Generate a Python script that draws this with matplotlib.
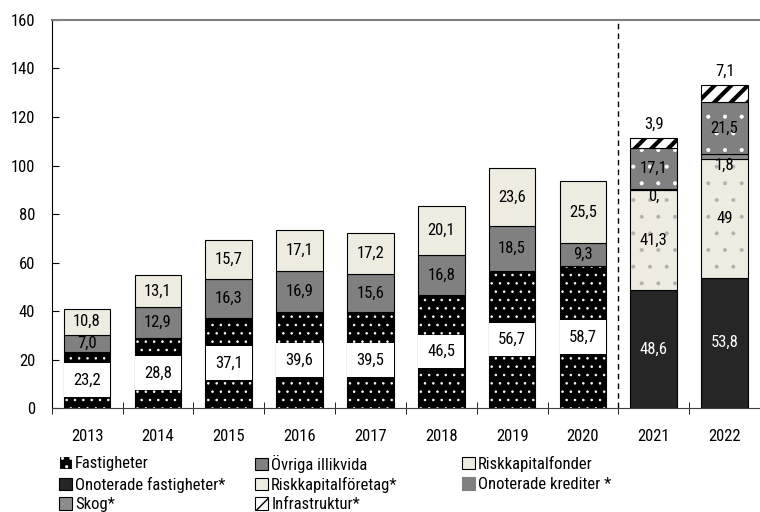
import matplotlib
matplotlib.use("Agg")
import matplotlib.pyplot as plt
from matplotlib import font_manager
from matplotlib.patches import Patch

years = ["2013", "2014", "2015", "2016", "2017", "2018", "2019", "2020", "2021", "2022"]

# 2013-2020
fastigheter = [23.2, 28.8, 37.1, 39.6, 39.5, 46.5, 56.7, 58.7]
ovriga_illikvida = [7.0, 12.9, 16.3, 16.9, 15.6, 16.8, 18.5, 9.3]
riskkapitalfonder = [10.8, 13.1, 15.7, 17.1, 17.2, 20.1, 23.6, 25.5]

# 2021-2022
onoterade_fastigheter = [48.6, 53.8]
riskkapitalforetag = [41.3, 49.0]
skog = [0.3, 1.8]
onoterade_krediter = [17.1, 21.5]
infrastruktur = [3.9, 7.1]
riskkapitalforetag_labels = ["41,3", "49"]
skog_labels = ["0,", "1,8"]

# pick a condensed face if one is installed
names = {f.name for f in font_manager.fontManager.ttflist}
font = "DejaVu Sans"
for cand in ["Roboto Condensed", "Liberation Sans Narrow", "Open Sans Condensed", "DejaVu Sans Condensed"]:
    if cand in names:
        font = cand
        break
plt.rcParams["font.family"] = [font, "DejaVu Sans"]

BEIGE = "#eeece1"
GRAY = "#808080"
DARK = "#262626"
W = 0.66


def fmt(v):
    return f"{v:.1f}".replace(".", ",")


def seg(ax, x, vals, bottoms, face, hatch=None, hcolor=None, hlw=1.0):
    if hatch:
        with plt.rc_context({"hatch.linewidth": hlw}):
            bars = ax.bar(x, vals, W, bottom=bottoms, color=face, edgecolor=hcolor,
                          linewidth=0, hatch=hatch)
            for p in bars:
                if hasattr(p, "set_hatch_linewidth"):
                    p.set_hatch_linewidth(hlw)
        ax.bar(x, vals, W, bottom=bottoms, fill=False, edgecolor="black", linewidth=0.8)
    else:
        ax.bar(x, vals, W, bottom=bottoms, color=face, edgecolor="black", linewidth=0.8)


fig = plt.figure(figsize=(7.6, 5.12), dpi=100)
ax = fig.add_axes([0.068, 0.203, 0.932, 0.758])

old = list(range(8))
new = [8, 9]

b1 = fastigheter
b2 = [a + b for a, b in zip(b1, ovriga_illikvida)]
seg(ax, old, fastigheter, 0, "black", "..", "white", 0.6)
seg(ax, old, ovriga_illikvida, b1, GRAY)
seg(ax, old, riskkapitalfonder, b2, BEIGE)

n1 = onoterade_fastigheter
n2 = [a + b for a, b in zip(n1, riskkapitalforetag)]
n3 = [a + b for a, b in zip(n2, skog)]
n4 = [a + b for a, b in zip(n3, onoterade_krediter)]
seg(ax, new, onoterade_fastigheter, 0, DARK)
seg(ax, new, riskkapitalforetag, n1, BEIGE, ".", "#b0b0b0", 0.4)
seg(ax, new, skog, n2, "#8c8c8c")
seg(ax, new, onoterade_krediter, n3, GRAY, ".", "white", 0.5)
seg(ax, new, infrastruktur, n4, "white", "//", "black", 3.0)

fs = 12
for i in old:
    ax.text(i, fastigheter[i] / 2, fmt(fastigheter[i]), ha="center", va="center", fontsize=fs,
            bbox=dict(boxstyle="square,pad=0.55", fc="white", ec="none"))
    ax.text(i, b1[i] + ovriga_illikvida[i] / 2, fmt(ovriga_illikvida[i]), ha="center", va="center", fontsize=fs)
    ax.text(i, b2[i] + riskkapitalfonder[i] / 2, fmt(riskkapitalfonder[i]), ha="center", va="center", fontsize=fs)

for j, i in enumerate(new):
    ax.text(i, n1[j] / 2, fmt(onoterade_fastigheter[j]), ha="center", va="center", fontsize=fs, color="white")
    ax.text(i, n1[j] + riskkapitalforetag[j] / 2, riskkapitalforetag_labels[j], ha="center", va="center", fontsize=fs)
    ax.text(i, n2[j] + 0.5, skog_labels[j], ha="center", va="top", fontsize=fs)
    ax.text(i, n3[j] + onoterade_krediter[j] / 2, fmt(onoterade_krediter[j]), ha="center", va="center", fontsize=fs)
    ax.text(i, n4[j] + infrastruktur[j] + 2.5, fmt(infrastruktur[j]), ha="center", va="bottom", fontsize=fs)

ax.axvline(7.5, color="black", linestyle=(0, (4, 3)), linewidth=1)

ax.set_xlim(-0.5, 9.33)
ax.set_ylim(0, 160)
ax.set_yticks(range(0, 161, 20))
ax.set_xticks(range(10))
ax.set_xticklabels(years)
ax.set_xticks([i - 0.5 for i in range(11)], minor=True)
ax.tick_params(axis="x", which="major", length=0, pad=15, labelsize=fs)
ax.tick_params(axis="x", which="minor", direction="inout", length=9, color="black")
ax.tick_params(axis="y", direction="in", length=5, pad=12, labelsize=fs)

ax.spines["right"].set_visible(False)
ax.spines["top"].set_color(GRAY)
ax.spines["top"].set_linewidth(1.5)
ax.spines["bottom"].set_color("#404040")
ax.spines["left"].set_color("black")


def lp(face, hatch=None, hcolor="black", ec="black"):
    return Patch(facecolor=face, edgecolor=hcolor if hatch else ec, hatch=hatch, linewidth=0.8)


legend_items = [
    (lp("black", "..", "white"), "Fastigheter"),
    (lp(GRAY), "Övriga illikvida"),
    (lp(BEIGE), "Riskkapitalfonder"),
    (lp(DARK), "Onoterade fastigheter*"),
    (lp(BEIGE), "Riskkapitalföretag*"),
    (lp(GRAY, ec=GRAY), "Onoterade krediter *"),
    (lp("#8c8c8c"), "Skog*"),
    (lp("white", "//", "black"), "Infrastruktur*"),
]
col_x = [0.078, 0.336, 0.608]
row_y = [0.094, 0.053, 0.014]
for k, (h, lab) in enumerate(legend_items):
    fig.legend([h], [lab], loc="center left", bbox_to_anchor=(col_x[k % 3], row_y[k // 3]),
               frameon=False, fontsize=12, handlelength=0.75, handleheight=0.75,
               handletextpad=0.2, borderaxespad=0, borderpad=0)

fig.savefig("out.png", dpi=100)
